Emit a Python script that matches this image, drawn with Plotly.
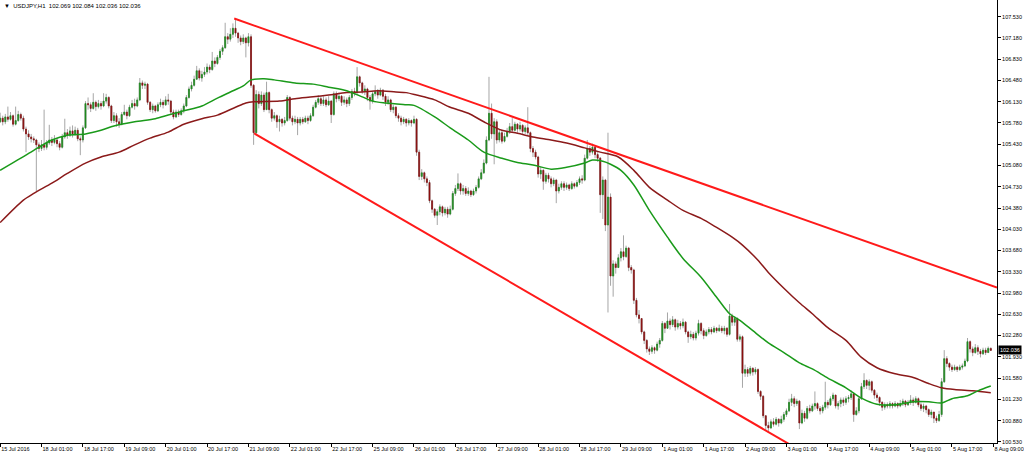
import plotly.graph_objects as go

# ---------------- data ----------------
first_open = 105.80
closes = [
105.86,105.80,105.88,105.84,105.90,105.76,105.82,105.92,105.86,105.68,
105.60,105.55,105.52,105.50,105.42,105.36,105.42,105.38,105.45,105.50,
105.46,105.50,105.44,105.38,105.55,105.62,105.58,105.65,105.60,105.66,
105.52,105.50,105.70,106.10,106.08,106.02,106.12,106.05,106.10,106.06,
106.14,106.20,106.06,105.82,105.90,105.80,105.76,105.92,105.96,105.90,
106.04,106.10,106.06,106.16,106.44,106.40,106.42,106.12,106.00,106.06,
105.98,106.08,106.12,106.08,106.16,106.14,105.96,105.88,105.96,105.92,
105.98,106.06,106.20,106.34,106.40,106.50,106.64,106.52,106.58,106.62,
106.70,106.66,106.80,106.76,106.86,106.96,107.02,107.20,107.16,107.24,
107.34,107.26,107.18,107.12,107.18,107.10,107.20,106.40,105.62,106.25,
106.10,106.24,106.00,106.28,106.00,105.86,105.90,105.80,105.84,105.78,
105.82,106.20,105.86,105.80,105.84,105.78,105.84,105.80,105.86,105.82,
105.90,106.04,106.12,106.18,106.10,106.16,106.08,106.14,105.92,106.26,
106.18,106.22,106.12,106.16,106.10,106.20,106.30,106.28,106.54,106.44,
106.30,106.34,106.20,106.14,106.26,106.30,106.24,106.32,106.22,106.12,
106.16,106.00,106.04,105.90,105.86,105.80,105.84,105.78,105.82,105.78,
105.84,105.30,104.90,104.96,104.86,104.80,104.50,104.36,104.26,104.32,
104.40,104.30,104.36,104.28,104.36,104.62,104.70,104.78,104.66,104.70,
104.62,104.66,104.60,104.66,104.72,104.86,104.96,105.12,105.50,105.94,
105.60,105.80,105.50,105.62,105.48,105.56,105.64,105.72,105.66,105.76,
105.68,105.74,105.64,105.70,105.62,105.36,105.30,105.22,104.94,105.00,
104.82,104.92,104.86,104.78,104.84,104.66,104.72,104.78,104.72,104.76,
104.70,104.78,104.74,104.80,104.86,104.84,105.20,105.36,105.30,105.38,
105.26,105.20,104.60,104.84,104.10,104.56,103.26,103.46,103.40,103.56,
103.66,103.58,103.72,103.40,103.36,102.86,102.62,102.56,102.34,102.20,
102.06,102.02,102.08,102.04,102.14,102.20,102.48,102.40,102.52,102.46,
102.54,102.42,102.48,102.44,102.50,102.34,102.26,102.30,102.24,102.32,
102.48,102.36,102.28,102.34,102.38,102.34,102.40,102.36,102.40,102.36,
102.40,102.30,102.60,102.50,102.56,102.22,102.26,101.66,101.72,101.66,
101.74,101.68,101.72,101.36,101.28,100.96,100.80,100.76,100.86,100.82,
100.90,100.84,100.90,100.98,101.04,101.18,101.24,101.16,101.20,100.84,
101.00,100.92,101.08,101.04,101.12,101.16,101.08,101.04,101.10,101.18,
101.14,101.24,101.30,101.12,101.16,101.22,101.18,101.24,101.26,101.32,
100.98,101.04,101.24,101.44,101.54,101.46,101.52,101.38,101.30,101.26,
101.18,101.10,101.14,101.12,101.16,101.12,101.16,101.12,101.16,101.20,
101.14,101.18,101.22,101.18,101.24,101.14,101.08,101.12,101.06,100.98,
101.02,100.92,100.88,100.98,101.52,101.90,101.82,101.76,101.72,101.76,
101.72,101.76,101.78,101.86,102.18,102.06,102.00,102.08,102.02,101.98,
102.04,102.00,102.069,102.036,
]
highs = [
105.95,105.90,105.93,106.05,105.96,105.92,106.05,105.98,105.95,105.90,
105.72,105.66,105.60,105.56,105.52,105.46,105.50,106.00,105.50,105.75,
105.55,105.58,105.53,105.48,105.60,105.85,105.68,105.72,105.74,105.72,
105.70,105.56,105.74,106.14,106.20,106.12,106.27,106.15,106.16,106.14,
106.27,106.26,106.22,106.08,105.96,105.94,105.86,105.96,106.08,106.00,
106.08,106.16,106.18,106.20,106.52,106.48,106.46,106.44,106.14,106.10,
106.08,106.12,106.18,106.16,106.22,106.26,106.16,106.00,106.00,106.00,
106.02,106.10,106.24,106.38,106.46,106.56,106.72,106.68,106.64,106.70,
106.76,106.74,106.95,106.86,106.90,107.00,107.06,107.43,107.26,107.34,
107.42,107.49,107.28,107.22,107.24,107.20,107.26,107.24,106.42,106.32,
106.30,106.30,106.28,106.46,106.30,106.02,105.96,105.92,105.90,105.86,
105.88,106.24,106.22,105.90,105.90,105.88,105.88,105.88,105.90,105.90,
105.94,106.08,106.16,106.24,106.22,106.22,106.20,106.22,106.16,106.30,
106.30,106.28,106.24,106.22,106.20,106.24,106.34,106.36,106.70,106.56,
106.46,106.40,106.36,106.24,106.30,106.40,106.34,106.36,106.34,106.26,
106.22,106.18,106.08,106.06,105.94,105.90,105.88,105.86,105.86,105.84,
105.90,105.86,105.34,105.02,104.98,104.90,104.84,104.52,104.38,104.36,
104.44,104.42,104.40,104.40,104.42,104.66,104.76,104.95,104.80,104.76,
104.74,104.72,104.68,104.70,104.76,104.90,105.02,105.18,105.56,106.54,
106.10,105.86,105.84,105.68,105.66,105.62,105.70,105.78,105.86,105.80,
105.78,105.80,105.76,105.74,106.04,105.64,105.40,105.34,105.24,105.06,
105.02,104.96,104.96,104.90,104.88,104.86,104.78,104.82,104.82,104.80,
104.78,104.82,104.80,104.84,104.90,104.92,105.26,105.50,105.40,105.44,
105.40,105.30,105.22,104.90,104.86,105.62,104.62,103.52,103.50,103.62,
103.72,103.93,103.76,103.74,103.44,103.38,102.90,102.70,102.56,102.36,
102.22,102.10,102.12,102.10,102.18,102.24,102.52,102.50,102.66,102.56,
102.60,102.56,102.54,102.52,102.56,102.52,102.36,102.36,102.34,102.36,
102.54,102.50,102.40,102.38,102.42,102.42,102.44,102.42,102.46,102.44,
102.44,102.42,102.80,102.64,102.60,102.58,102.30,102.28,101.80,101.76,
101.78,101.76,101.76,101.74,101.38,101.30,100.96,100.86,100.90,100.92,
100.94,100.92,100.96,101.02,101.08,101.24,101.32,101.28,101.24,101.22,
101.06,101.04,101.12,101.14,101.16,101.36,101.18,101.12,101.14,101.52,
101.22,101.28,101.34,101.30,101.20,101.26,101.26,101.28,101.30,101.38,
101.34,101.10,101.28,101.50,101.66,101.56,101.56,101.54,101.40,101.34,
101.28,101.20,101.18,101.18,101.20,101.18,101.20,101.18,101.22,101.24,
101.22,101.22,101.30,101.26,101.28,101.26,101.18,101.16,101.14,101.08,
101.06,101.02,100.96,101.04,101.58,102.04,101.94,101.84,101.80,101.80,
101.78,101.80,101.82,101.90,102.24,102.20,102.10,102.14,102.12,102.06,
102.08,102.08,102.10,102.084,
]
lows = [
105.78,105.74,105.76,105.80,105.82,105.72,105.74,105.80,105.82,105.64,
105.30,105.50,105.46,105.45,104.66,105.30,105.32,105.33,105.34,105.42,
105.40,105.43,105.38,105.33,105.36,105.52,105.52,105.55,105.54,105.57,
105.48,105.25,105.46,105.68,106.00,105.96,106.00,105.98,106.02,106.00,
106.04,106.10,106.02,105.78,105.78,105.72,105.70,105.74,105.90,105.84,
105.88,106.02,106.00,106.04,106.14,106.34,106.34,106.08,105.96,105.94,
105.95,105.96,106.04,106.02,106.06,106.08,105.92,105.84,105.86,105.88,
105.90,105.94,106.04,106.18,106.30,106.38,106.50,106.48,106.46,106.54,
106.58,106.60,106.64,106.70,106.74,106.82,106.90,107.00,107.08,107.12,
107.18,107.20,107.10,107.06,107.08,106.86,107.04,106.36,105.42,105.58,
106.02,106.06,105.96,106.00,105.94,105.80,105.82,105.70,105.64,105.72,
105.74,105.80,105.82,105.74,105.76,105.58,105.74,105.76,105.78,105.76,
105.80,105.88,106.02,106.08,106.06,106.06,106.04,106.06,105.78,105.90,
106.12,106.14,106.06,106.08,106.04,106.06,106.16,106.22,106.26,106.38,
106.26,106.24,106.14,106.00,106.10,106.22,106.18,106.22,106.16,106.06,
106.08,105.96,105.94,105.86,105.80,105.74,105.76,105.72,105.74,105.72,
105.76,105.24,104.84,104.84,104.80,104.74,104.46,104.30,104.22,104.10,
104.26,104.24,104.26,104.22,104.26,104.34,104.58,104.66,104.60,104.60,
104.58,104.58,104.56,104.58,104.62,104.70,104.84,104.94,105.10,105.48,
105.52,105.10,105.44,105.46,105.44,105.46,105.54,105.60,105.62,105.64,
105.62,105.64,105.60,105.60,105.58,105.30,105.22,105.18,104.88,104.86,
104.68,104.78,104.80,104.72,104.74,104.46,104.62,104.68,104.66,104.68,
104.66,104.68,104.70,104.72,104.76,104.78,104.82,105.18,105.24,105.26,
105.20,105.14,104.30,104.20,104.00,102.66,103.10,102.92,103.30,103.40,
103.50,103.52,103.56,103.34,103.30,102.80,102.58,102.48,102.30,102.14,
102.00,101.96,101.98,101.98,102.02,102.08,102.18,102.32,102.40,102.38,
102.42,102.36,102.38,102.38,102.40,102.30,102.16,102.22,102.20,102.20,
102.28,102.30,102.22,102.26,102.30,102.30,102.32,102.32,102.34,102.32,
102.30,102.26,102.28,102.44,102.44,102.18,102.18,101.42,101.60,101.60,
101.62,101.62,101.64,101.32,101.22,100.92,100.72,100.68,100.74,100.78,
100.80,100.78,100.82,100.86,100.94,101.02,101.12,101.10,101.12,100.74,
100.82,100.86,100.90,101.00,101.02,101.06,101.04,100.98,101.00,101.06,
101.08,101.12,101.20,101.08,101.06,101.10,101.12,101.14,101.18,101.22,
100.86,100.96,101.00,101.22,101.40,101.40,101.38,101.34,101.24,101.20,
101.12,101.04,101.06,101.08,101.08,101.08,101.10,101.08,101.10,101.12,
101.10,101.12,101.14,101.12,101.16,101.10,101.04,101.02,101.00,100.94,
100.92,100.84,100.84,100.86,100.94,101.50,101.76,101.70,101.68,101.70,
101.68,101.70,101.72,101.76,101.84,102.00,101.94,101.98,101.96,101.92,
101.96,101.96,102.00,102.026,
]

# moving averages (bar index, price)
ma_fast_x = [0,8,13,20,26,33,39,44,52,60,65,71,78,84,89,94,97,102,106,114,121,127,134,140,144,149,157,160,168,174,181,187,194,200,206,213,219,226,229,233,236,240,245,251,258,264,271,277,282,286,291,297,303,309,314,320,327,333,339,346,353,359,364,368,374,378,383]
ma_fast_y = [105.00,105.20,105.33,105.50,105.58,105.60,105.66,105.73,105.80,105.85,105.91,105.98,106.06,106.19,106.29,106.39,106.49,106.51,106.49,106.44,106.42,106.37,106.31,106.21,106.14,106.11,106.08,106.07,105.88,105.70,105.50,105.30,105.20,105.13,105.09,105.02,105.05,105.12,105.17,105.15,105.10,105.00,104.76,104.34,103.90,103.55,103.24,102.91,102.64,102.53,102.36,102.16,102.00,101.83,101.73,101.58,101.42,101.25,101.15,101.14,101.19,101.19,101.17,101.24,101.29,101.37,101.45]
ma_slow_x = [0,9,13,20,26,33,39,46,52,58,65,71,78,84,91,95,98,108,114,121,127,134,140,146,153,157,161,168,174,181,187,194,200,206,213,219,226,232,239,245,251,258,264,271,277,283,287,293,297,303,309,314,320,327,333,339,346,353,359,364,369,376,383]
ma_slow_y = [104.14,104.51,104.62,104.79,104.95,105.12,105.22,105.30,105.42,105.53,105.63,105.76,105.85,105.91,106.04,106.11,106.13,106.14,106.18,106.21,106.24,106.28,106.29,106.31,106.29,106.28,106.24,106.16,106.04,105.94,105.80,105.66,105.61,105.55,105.50,105.45,105.37,105.30,105.22,105.00,104.72,104.51,104.34,104.21,104.06,103.90,103.77,103.52,103.32,103.06,102.82,102.64,102.41,102.20,101.92,101.75,101.65,101.59,101.49,101.42,101.39,101.37,101.34]

# channel lines (bar index, price) of the two end points
upper_line_x = [90.5, 385.4]
upper_line_y = [107.50, 103.07]
lower_line_x = [98.2, 310.0]
lower_line_y = [105.61, 100.37]

tick_pos = [0,16,32,48,64,80,96,112,128,144,160,176,192,208,224,240,256,272,288,304,320,336,352,368,384]
tick_labels = ["15 Jul 2016","18 Jul 01:00","18 Jul 17:00","19 Jul 09:00","20 Jul 01:00","20 Jul 17:00",
               "21 Jul 09:00","22 Jul 01:00","22 Jul 17:00","25 Jul 09:00","26 Jul 01:00","26 Jul 17:00",
               "27 Jul 09:00","28 Jul 01:00","28 Jul 17:00","29 Jul 09:00","1 Aug 01:00","1 Aug 17:00",
               "2 Aug 09:00","3 Aug 01:00","3 Aug 17:00","4 Aug 09:00","5 Aug 01:00","5 Aug 17:00","8 Aug 09:00"]
price_ticks = [100.53,100.88,101.23,101.58,101.93,102.28,102.63,102.98,103.33,103.68,104.03,
               104.38,104.73,105.08,105.43,105.78,106.13,106.48,106.83,107.18,107.53]
price_labels = ["100.530","100.880","101.230","101.580","101.930","102.280","102.630","102.980",
                "103.330","103.680","104.030","104.380","104.730","105.080","105.430","105.780",
                "106.130","106.480","106.830","107.180","107.530"]
last_price = 102.036
title_text = "USDJPY,H1  102.069 102.084 102.036 102.036"

# ---------------- build ----------------
n = len(closes)
xs = list(range(n))
opens = [first_open] + closes[:-1]
hi = [max(h, o, c) for h, o, c in zip(highs, opens, closes)]
lo = [min(l, o, c) for l, o, c in zip(lows, opens, closes)]
body_hi = [max(o, c) for o, c in zip(opens, closes)]
body_lo = [min(o, c) for o, c in zip(opens, closes)]

WICK = "#a6a6a6"
BULL = "#1d8a1d"
BEAR = "#8a0f0f"

fig = go.Figure()
fig.add_trace(go.Candlestick(
    x=xs, open=opens, high=hi, low=lo, close=closes,
    increasing=dict(line=dict(color=WICK, width=1), fillcolor=WICK),
    decreasing=dict(line=dict(color=WICK, width=1), fillcolor=WICK),
    whiskerwidth=0, hoverinfo="skip", showlegend=False))
fig.add_trace(go.Candlestick(
    x=xs, open=opens, high=body_hi, low=body_lo, close=closes,
    increasing=dict(line=dict(color=BULL, width=0.6), fillcolor=BULL),
    decreasing=dict(line=dict(color=BEAR, width=0.6), fillcolor=BEAR),
    whiskerwidth=0, hoverinfo="skip", showlegend=False))
fig.add_trace(go.Scatter(x=ma_slow_x, y=ma_slow_y, mode="lines",
                         line=dict(color="#8b1a1a", width=1.5, shape="spline", smoothing=0.8),
                         hoverinfo="skip", showlegend=False))
fig.add_trace(go.Scatter(x=ma_fast_x, y=ma_fast_y, mode="lines",
                         line=dict(color="#1a9a1a", width=1.5, shape="spline", smoothing=0.8),
                         hoverinfo="skip", showlegend=False))
fig.add_trace(go.Scatter(x=upper_line_x, y=upper_line_y, mode="lines",
                         line=dict(color="#ff1a1a", width=2), hoverinfo="skip", showlegend=False))
fig.add_trace(go.Scatter(x=lower_line_x, y=lower_line_y, mode="lines",
                         line=dict(color="#ff1a1a", width=2), hoverinfo="skip", showlegend=False))

axis_font = dict(family="Liberation Sans, Arial, sans-serif", size=5.5, color="#000000")
fig.update_layout(
    width=1024, height=456,
    margin=dict(l=0, r=27, t=0, b=13),
    paper_bgcolor="white", plot_bgcolor="white",
    boxgap=0.45, boxmode="overlay",
    hovermode=False,
    xaxis=dict(range=[-0.05, 385.4], tickmode="array", tickvals=tick_pos, ticktext=tick_labels,
               ticks="outside", ticklen=3, tickcolor="#000", tickfont=axis_font,
               ticklabelposition="outside right", automargin=False,
               showline=True, linecolor="#000", linewidth=1, mirror=False,
               showgrid=False, zeroline=False, rangeslider=dict(visible=False), fixedrange=True),
    yaxis=dict(range=[100.511, 107.805], side="right", tickmode="array", tickvals=price_ticks,
               ticktext=price_labels, ticks="outside", ticklen=3, tickcolor="#000",
               tickfont=axis_font, showline=True, linecolor="#000", linewidth=1, automargin=False,
               showgrid=False, zeroline=False, fixedrange=True),
    annotations=[
        dict(xref="paper", yref="paper", x=0.002, y=1.0, xanchor="left", yanchor="top",
             yshift=-1, showarrow=False, text="\u25BC  " + title_text,
             font=dict(family="Liberation Sans, Arial, sans-serif", size=6, color="#000")),
        dict(xref="paper", yref="y", x=1.0, y=last_price, xanchor="left", yanchor="middle",
             xshift=1, showarrow=False, text=f"{last_price:.3f}", bgcolor="#000000",
             borderpad=1, font=dict(family="Liberation Sans, Arial, sans-serif", size=5.5, color="#ffffff")),
    ],
)

fig.write_html("out.html", config={"displayModeBar": False},
               post_script="document.body.style.margin='0';document.body.style.overflow='hidden';")
